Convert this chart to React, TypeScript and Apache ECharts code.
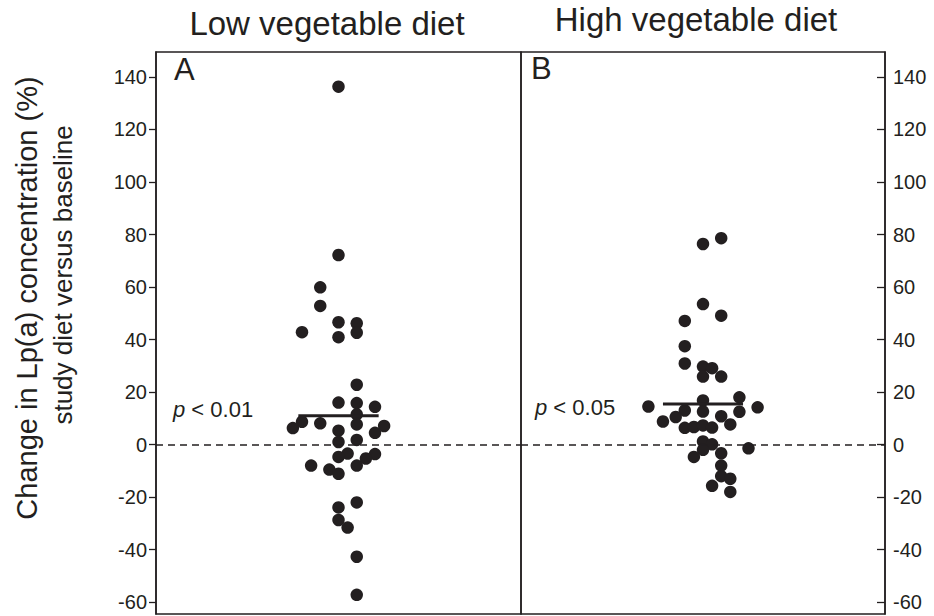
import React, { useEffect, useRef } from "react";
import * as echarts from "echarts";

// ---- data ----
const titles = ["Low vegetable diet", "High vegetable diet"];
const panelLetters = ["A", "B"];
const pLabels = ["0.01", "0.05"];
const yTicks = [-60, -40, -20, 0, 20, 40, 60, 80, 100, 120, 140];

// Low vegetable diet: horizontal beeswarm column offset, change (%)
const lowX = [0, 0, -2, -2, -4, 0, 0, 2, 2, 2, 0, 2, 4, 2, -4, -5, -2, 2, 5, 4, 0, 0, 2, 1, 0, 4, 3, 2, -3, -1, 0, 2, 0, 0, 1, 2, 2];
const lowY = [136.3, 72.2, 59.9, 52.8, 42.8, 46.6, 40.9, 46.2, 42.6, 22.8, 16.0, 15.8, 14.4, 11.5, 8.7, 6.3, 8.1, 7.7, 7.1, 4.5, 5.3, 1.0, 1.8, -3.4, -4.7, -3.6, -5.3, -8.0, -8.0, -9.5, -11.1, -22.0, -23.9, -28.7, -31.6, -42.7, -57.2];
const lowMean = 11.0;

// High vegetable diet
const highX = [0, 2, 0, 2, -2, -2, -2, 0, 1, 0, 2, -6, 0, 4, 6, -2, 0, 2, 4, -3, -4.4, 3, -2, -1, 0, 1, 0, 1, 0, 5, 2, -1, 2, 2, 3, 1, 3];
const highY = [76.4, 78.6, 53.5, 49.1, 47.1, 37.5, 30.9, 29.7, 29.1, 25.9, 25.9, 14.5, 16.8, 18.0, 14.2, 13.0, 12.6, 10.8, 12.5, 10.5, 8.8, 7.7, 6.4, 6.7, 7.3, 6.5, 1.2, 0.1, -2.0, -1.4, -3.3, -4.7, -8.0, -12.0, -13.0, -15.7, -18.0];
const highMean = 15.5;

// ---- layout / style constants ----
const INK = "#231f20";
const FONT = "'Liberation Sans', Arial, Helvetica, sans-serif";
const X_MIN = -20;
const X_MAX = 20;
const Y_MIN = -64.5;
const Y_MAX = 149.5;
const MEAN_HALF = 4.4;

export default function App() {
  const ref = useRef<HTMLDivElement>(null);

  useEffect(() => {
    if (!ref.current) return;
    const chart = echarts.init(ref.current, null, { renderer: "svg" });

    const grids = [
      { left: 156, top: 52, width: 365, height: 562 },
      { left: 521, top: 52, width: 364, height: 562 },
    ].map((g) => ({ ...g, show: true, borderColor: INK, borderWidth: 1.5, backgroundColor: "transparent" }));

    const xAxes = [0, 1].map((i) => ({
      type: "value",
      gridIndex: i,
      min: X_MIN,
      max: X_MAX,
      show: false,
    }));

    const yAxes = [0, 1].map((i) => ({
      type: "value",
      gridIndex: i,
      min: Y_MIN,
      max: Y_MAX,
      position: i === 0 ? "left" : "right",
      axisLine: { show: true, onZero: false, lineStyle: { color: INK, width: 1.5 } },
      splitLine: { show: false },
      axisTick: {
        show: true,
        inside: i === 1,
        length: i === 0 ? 7 : 8,
        customValues: yTicks,
        lineStyle: { color: INK, width: 1.3 },
      },
      axisLabel: {
        customValues: yTicks,
        color: INK,
        fontSize: 20,
        fontFamily: FONT,
        margin: i === 0 ? 9 : 8,
      },
    }));

    const zeroLine = {
      silent: true,
      symbol: ["none", "none"],
      label: { show: false },
      lineStyle: { color: INK, type: [7, 5], width: 1.5 },
      data: [{ yAxis: 0 }],
    };

    const scatter = (idx: number, xs: number[], ys: number[]) => ({
      type: "scatter",
      xAxisIndex: idx,
      yAxisIndex: idx,
      symbol: "circle",
      symbolSize: 12.5,
      itemStyle: { color: INK, opacity: 1 },
      data: xs.map((x, k) => [x, ys[k]]),
      markLine: zeroLine,
      z: 3,
    });

    const meanLine = (idx: number, m: number) => ({
      type: "line",
      xAxisIndex: idx,
      yAxisIndex: idx,
      symbol: "none",
      lineStyle: { color: INK, width: 3 },
      data: [
        [-MEAN_HALF, m],
        [MEAN_HALF, m],
      ],
      z: 4,
    });

    const textStyle = (extra: any) => ({ fill: INK, fontFamily: FONT, ...extra });

    chart.setOption({
      animation: false,
      grid: grids,
      xAxis: xAxes,
      yAxis: yAxes,
      series: [
        scatter(0, lowX, lowY),
        scatter(1, highX, highY),
        meanLine(0, lowMean),
        meanLine(1, highMean),
      ],
      graphic: [
        {
          type: "text",
          x: 327,
          y: 23,
          style: textStyle({ text: titles[0], fontSize: 33, align: "center", verticalAlign: "middle" }),
        },
        {
          type: "text",
          x: 696,
          y: 19,
          style: textStyle({ text: titles[1], fontSize: 33, align: "center", verticalAlign: "middle" }),
        },
        {
          type: "text",
          x: 174,
          y: 69,
          style: textStyle({ text: panelLetters[0], fontSize: 31, align: "left", verticalAlign: "middle" }),
        },
        {
          type: "text",
          x: 531,
          y: 68,
          style: textStyle({ text: panelLetters[1], fontSize: 31, align: "left", verticalAlign: "middle" }),
        },
        {
          type: "text",
          x: 173,
          y: 409,
          style: textStyle({
            text: "{i|p} < " + pLabels[0],
            fontSize: 22,
            align: "left",
            verticalAlign: "middle",
            rich: { i: { fontStyle: "italic", fontSize: 22, fontFamily: FONT, fill: INK } },
          }),
        },
        {
          type: "text",
          x: 535,
          y: 407,
          style: textStyle({
            text: "{i|p} < " + pLabels[1],
            fontSize: 22,
            align: "left",
            verticalAlign: "middle",
            rich: { i: { fontStyle: "italic", fontSize: 22, fontFamily: FONT, fill: INK } },
          }),
        },
        {
          type: "text",
          x: 27,
          y: 298,
          rotation: Math.PI / 2,
          style: textStyle({ text: "Change in Lp(a) concentration (%)", fontSize: 29, align: "center", verticalAlign: "middle" }),
        },
        {
          type: "text",
          x: 63,
          y: 275,
          rotation: Math.PI / 2,
          style: textStyle({ text: "study diet versus baseline", fontSize: 26, align: "center", verticalAlign: "middle" }),
        },
      ],
    });

    return () => chart.dispose();
  }, []);

  return <div ref={ref} style={{ width: 934, height: 616, position: "absolute", left: 0, top: 0, background: "#fff" }} />;
}
